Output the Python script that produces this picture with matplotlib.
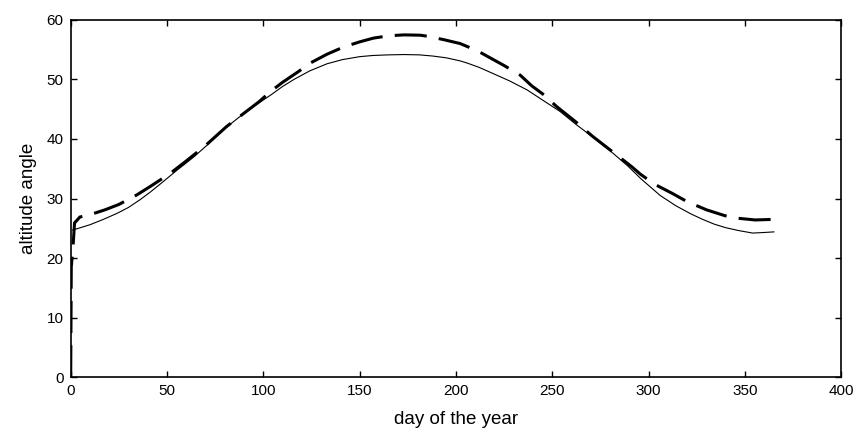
## Module imports
import numpy as np
import matplotlib
matplotlib.use('Agg')
import matplotlib.pyplot as plt

## Data
# solid line (thin)
solid_day = [1, 5, 10, 17, 24, 30, 36, 41, 46, 55, 64, 72, 81, 90, 98, 104, 110, 116,
             124, 133, 141, 150, 157, 165, 173, 181, 188, 195, 202, 206, 212, 219,
             228, 237, 245, 254, 262, 271, 280, 289, 296, 306, 314, 322, 328, 334,
             340, 347, 354, 360, 365]
solid_alt = [24.7, 25.1, 25.6, 26.5, 27.5, 28.5, 29.8, 31.0, 32.3, 34.7, 37.0, 39.3,
             42.0, 44.3, 46.1, 47.4, 48.8, 50.0, 51.4, 52.6, 53.3, 53.8, 54.0, 54.1,
             54.15, 54.1, 53.9, 53.6, 53.1, 52.7, 52.0, 51.0, 49.7, 48.2, 46.5, 44.6,
             42.5, 40.3, 38.0, 35.5, 33.3, 30.5, 28.8, 27.4, 26.5, 25.7, 25.1, 24.6,
             24.2, 24.3, 24.4]

# dashed line (thick)
dash_day = [0, 0.3, 1.2, 2, 4.8, 9.2, 17.8, 25, 34.3, 41.2, 51.6, 60, 70, 81, 98,
            103.5, 110, 118.2, 124.2, 133, 141.5, 150.2, 157, 165, 173, 181.4, 185.7,
            194.3, 202.1, 211, 217.7, 225, 233.3, 239.3, 246, 252.3, 262, 271, 281,
            291.3, 295.6, 303, 312, 319.8, 330, 339.7, 345.8, 355.3, 364.8]
dash_alt = [0, 18.5, 21.9, 25.9, 26.9, 27.2, 28.1, 29.0, 30.6, 32.0, 34.2, 36.3, 38.9,
            42.1, 46.3, 47.9, 49.5, 51.3, 52.7, 54.2, 55.4, 56.3, 56.9, 57.3, 57.45,
            57.4, 57.2, 56.6, 56.0, 54.8, 53.6, 52.3, 50.7, 48.9, 47.3, 45.4, 42.9,
            40.4, 37.9, 35.3, 34.1, 32.4, 30.9, 29.5, 28.1, 27.1, 26.7, 26.4, 26.5]

x_ticks = [0, 50, 100, 150, 200, 250, 300, 350, 400]
y_ticks = [0, 10, 20, 30, 40, 50, 60]

## Plot
plt.rcParams['font.family'] = ['Liberation Sans', 'DejaVu Sans']

fig = plt.figure(figsize=(8.61, 4.32), dpi=100)
ax = fig.add_axes([0.0821, 0.1266, 0.9772 - 0.0821, 0.9544 - 0.1266])

ax.plot(solid_day, solid_alt, color='black', lw=0.8)
ax.plot(dash_day, dash_alt, color='black', lw=2.2, ls=(0, (10.5, 4)),
        solid_capstyle='butt', dash_capstyle='butt')

ax.set_xlim(0, 400)
ax.set_ylim(0, 60)
ax.set_xticks(x_ticks)
ax.set_yticks(y_ticks)
ax.tick_params(direction='in', top=True, right=True, length=4, width=1,
               labelsize=11, pad=5)
for s in ax.spines.values():
    s.set_linewidth(1.2)

ax.set_xlabel('day of the year', fontsize=13.5, labelpad=9)
ax.set_ylabel('altitude angle', fontsize=13.5, labelpad=7)

fig.savefig('out.png', dpi=100)
